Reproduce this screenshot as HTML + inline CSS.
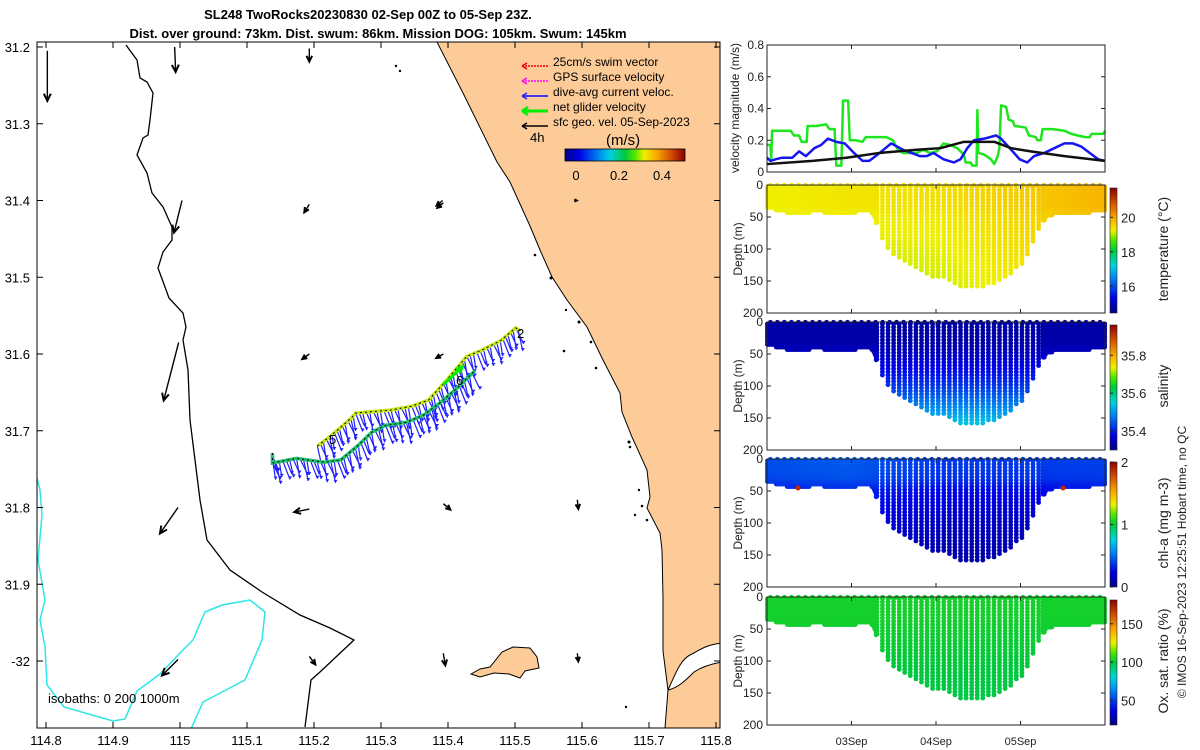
<!DOCTYPE html>
<html><head><meta charset="utf-8">
<style>
html,body{margin:0;padding:0;background:#fff;}
svg{display:block;font-family:"Liberation Sans",sans-serif;}
</style></head>
<body>
<svg id="fig" width="1200" height="750" viewBox="0 0 1200 750" xmlns="http://www.w3.org/2000/svg">
<defs>
<linearGradient id="cmapH" x1="0" x2="1" y1="0" y2="0">
<stop offset="0" stop-color="rgb(0,0,130)"/><stop offset="0.12" stop-color="rgb(0,0,230)"/><stop offset="0.3" stop-color="rgb(0,150,240)"/><stop offset="0.38" stop-color="rgb(0,210,220)"/><stop offset="0.5" stop-color="rgb(0,200,60)"/><stop offset="0.58" stop-color="rgb(80,230,0)"/><stop offset="0.66" stop-color="rgb(240,240,0)"/><stop offset="0.76" stop-color="rgb(250,170,0)"/><stop offset="0.88" stop-color="rgb(210,80,0)"/><stop offset="1" stop-color="rgb(140,0,0)"/>
</linearGradient>
<linearGradient id="cmapV" x1="0" x2="0" y1="1" y2="0">
<stop offset="0" stop-color="rgb(0,0,130)"/><stop offset="0.12" stop-color="rgb(0,0,230)"/><stop offset="0.3" stop-color="rgb(0,150,240)"/><stop offset="0.38" stop-color="rgb(0,210,220)"/><stop offset="0.5" stop-color="rgb(0,200,60)"/><stop offset="0.58" stop-color="rgb(80,230,0)"/><stop offset="0.66" stop-color="rgb(240,240,0)"/><stop offset="0.76" stop-color="rgb(250,170,0)"/><stop offset="0.88" stop-color="rgb(210,80,0)"/><stop offset="1" stop-color="rgb(140,0,0)"/>
</linearGradient>
<clipPath id="mapClip"><rect x="37" y="42" width="683" height="686"/></clipPath>
</defs>

<text x="368" y="19" text-anchor="middle" font-size="13" font-weight="bold">SL248 TwoRocks20230830 02-Sep 00Z to 05-Sep 23Z.</text>
<text x="378" y="38" text-anchor="middle" font-size="13" font-weight="bold">Dist. over ground: 73km. Dist. swum: 86km. Mission DOG: 105km. Swum: 145km</text>

<g id="map">
<g clip-path="url(#mapClip)">
<polygon fill="#fccb98" stroke="#000" stroke-width="1"
 points="437,42 463,93 497,162 510,182 530,226 540,250 552,277 567,300 587,327 603,360 620,393 622,412 632,437 647,470 650,497 647,508 660,533 662,550 663,598 663,651 668,690 665,728 730,728 730,42"/>
<path fill="#fff" stroke="#000" stroke-width="1" d="M668,690 C675,675 680,660 690,655 C700,650 705,645 722,643 L722,662 C710,664 700,668 694,672 C686,680 678,688 668,690 Z"/>
<polygon fill="#fccb98" stroke="#000" stroke-width="1"
 points="471,674 480,669 490,667 502,652 513,647 530,648 537,657 539,668 525,671 520,678 509,674 494,673 480,677"/>
<g fill="#000">
<circle cx="535" cy="255" r="1.3"/><circle cx="551" cy="278" r="1.5"/><circle cx="566" cy="310" r="1.2"/><circle cx="579" cy="322" r="1.5"/><circle cx="591" cy="342" r="1.3"/><circle cx="564" cy="351" r="1.3"/><circle cx="596" cy="368" r="1.3"/><circle cx="629" cy="442" r="1.5"/><circle cx="630" cy="447" r="1.3"/><circle cx="639" cy="490" r="1.2"/><circle cx="642" cy="506" r="1.3"/><circle cx="635" cy="515" r="1.2"/><circle cx="647" cy="520" r="1.3"/><circle cx="396" cy="66" r="1.2"/><circle cx="400" cy="71" r="1.2"/><circle cx="626" cy="707" r="1.2"/>
</g>
<polyline fill="none" stroke="#000" stroke-width="1.3"
 points="126,45 137,60 140,78 147,82 153,93 150,120 148,135 143,138 137,155 147,173 152,193 163,207 172,227 172,240 163,252 158,268 165,287 169,298 183,313 186,327 183,340 188,370 190,420 195,460 200,500 207,540 230,570 262,592 300,615 330,628 354,640 320,672 311,680 305,727"/>
<polyline fill="none" stroke="#2ee6e6" stroke-width="1.5"
 points="37,478 40,490 42,515 38,560 45,600 40,620 45,647 47,685 64,707 113,721 125,719 137,691 160,674 179,654 193,640 205,612 222,605 250,600 265,612 262,640 245,680 203,702 191,729"/>
<g id="geoArrows"></g>
<g id="track"></g>
</g>
<rect x="37" y="42" width="683" height="686" fill="none" stroke="#000" stroke-width="1"/>
<g id="mapTicks"></g>
<text x="48" y="703" font-size="13">isobaths: 0   200  1000m</text>
<text x="517" y="338" font-size="13">2</text>
<text x="456" y="385" font-size="13">6</text>
<text x="329" y="444" font-size="13">5</text>

<g font-size="12">
<line x1="548" y1="66" x2="522" y2="66" stroke="#e00" stroke-width="1.5" stroke-dasharray="2,1"/><path d="M522,66 l5,-3 M522,66 l5,3" stroke="#e00" stroke-width="1.5"/>
<text x="553" y="66">25cm/s swim vector</text>
<line x1="548" y1="81" x2="522" y2="81" stroke="#f0f" stroke-width="1.5" stroke-dasharray="2,1"/><path d="M522,81 l5,-3 M522,81 l5,3" stroke="#f0f" stroke-width="1.5"/>
<text x="553" y="81">GPS surface velocity</text>
<line x1="548" y1="96" x2="522" y2="96" stroke="#22f" stroke-width="1.8"/><path d="M522,96 l5,-3 M522,96 l5,3" stroke="#22f" stroke-width="1.5"/>
<text x="553" y="96">dive-avg current veloc.</text>
<line x1="548" y1="111" x2="522" y2="111" stroke="#0e0" stroke-width="3"/><path d="M522,111 l6,-4 M522,111 l6,4" stroke="#0e0" stroke-width="2.5"/>
<text x="553" y="111">net glider velocity</text>
<line x1="548" y1="126" x2="522" y2="126" stroke="#000" stroke-width="1.5"/><path d="M522,126 l5,-3 M522,126 l5,3" stroke="#000" stroke-width="1.5"/>
<text x="553" y="126">sfc geo. vel. 05-Sep-2023</text>
<text x="530" y="142" font-size="13">4h</text>
<text x="606" y="145" font-size="15">(m/s)</text>
<rect x="565" y="149" width="120" height="12" fill="url(#cmapH)" stroke="#000" stroke-width="0.8"/>
<text x="576" y="180" font-size="13" text-anchor="middle">0</text>
<text x="619" y="180" font-size="13" text-anchor="middle">0.2</text>
<text x="662" y="180" font-size="13" text-anchor="middle">0.4</text>
</g>
</g>

<g id="right"></g>

<text transform="translate(739,108) rotate(-90)" text-anchor="middle" font-size="12" fill="#222">velocity magnitude (m/s)</text>
<text transform="translate(1186,562) rotate(-90)" text-anchor="middle" font-size="12" fill="#222">© IMOS 16-Sep-2023 12:25:51 Hobart time, no QC</text>
</svg>

<script>
// ---------- velocity panel data (time in days from 02-Sep 00Z) ----------
const greenT = [0,0.04,0.05,0.06,0.28,0.32,0.38,0.41,0.47,0.48,0.58,0.70,0.74,0.80,0.82,0.88,0.90,0.96,0.98,1.05,1.13,1.17,1.41,1.49,1.55,1.61,1.77,1.85,1.93,2.01,2.09,2.17,2.25,2.33,2.35,2.41,2.43,2.48,2.49,2.50,2.57,2.65,2.69,2.73,2.75,2.77,2.83,2.86,2.91,2.93,3.06,3.10,3.18,3.20,3.24,3.26,3.38,3.52,3.56,3.60,3.68,3.76,3.82,3.84,3.98,4.0];
const greenV = [0.17,0.17,0.08,0.26,0.26,0.23,0.23,0.19,0.19,0.29,0.29,0.30,0.27,0.27,0.04,0.04,0.45,0.45,0.20,0.20,0.19,0.22,0.22,0.20,0.14,0.12,0.12,0.14,0.12,0.13,0.18,0.17,0.15,0.11,0.06,0.06,0.04,0.04,0.39,0.12,0.11,0.08,0.05,0.10,0.15,0.42,0.41,0.33,0.32,0.29,0.28,0.23,0.22,0.20,0.20,0.27,0.27,0.26,0.25,0.24,0.23,0.22,0.22,0.24,0.24,0.26];
const blueT = [0,0.04,0.10,0.18,0.30,0.38,0.46,0.56,0.64,0.72,0.82,0.92,1.03,1.13,1.21,1.31,1.47,1.61,1.71,1.81,1.89,1.97,2.09,2.21,2.29,2.37,2.45,2.57,2.71,2.77,2.89,2.99,3.08,3.16,3.28,3.40,3.52,3.62,3.72,3.82,3.92,4.0];
const blueV = [0.09,0.07,0.08,0.09,0.09,0.13,0.10,0.15,0.17,0.21,0.19,0.18,0.12,0.07,0.07,0.11,0.18,0.14,0.12,0.10,0.10,0.12,0.08,0.06,0.08,0.15,0.20,0.21,0.23,0.21,0.14,0.08,0.06,0.10,0.12,0.15,0.18,0.18,0.16,0.12,0.08,0.07];
const blackT = [0,0.54,0.94,1.33,1.77,2.05,2.33,2.69,2.89,3.12,3.52,4.0];
const blackV = [0.05,0.07,0.09,0.12,0.14,0.15,0.19,0.19,0.15,0.13,0.10,0.07];
const velTicks = [0,0.2,0.4,0.6,0.8];
const dayTicks = [1,2,3];
const dayLabels = ["03Sep","04Sep","05Sep"];
const depthTicks = [0,50,100,150,200];

// ---------- profile coverage (max dive depth vs time) ----------
const envT = [0,0.3,0.6,0.9,1.2,1.25,1.41,1.6,1.8,2.0,2.16,2.32,2.55,2.71,2.87,3.03,3.13,3.19,3.31,3.43,3.7,4.0];
const envD = [36,45,42,46,40,45,100,120,135,145,150,160,160,155,140,125,100,75,50,45,45,40];

// ---------- per-variable colour models: value at depth levels + time anomaly ----------
const profDepth = [0,30,50,100,160];
const adjT = [0,1,2,3,4];
const tempProf = [19.4,19.4,19.3,19.2,19.1];
const tempAdj = [-0.15,-0.05,0.0,0.2,0.45];
const salProf = [35.33,35.33,35.35,35.42,35.54];
const salAdj = [0,0,0,0,0];
const chlProf = [0.38,0.36,0.25,0.15,0.10];
const chlAdj = [0.05,0.08,0,0,0.02];
const oxProf = [103,103,102,100,98];
const oxAdj = [0,0,0,0,0];

// ---------- map data ----------
const geoLon = [114.802,114.992,115.193,115.392,115.592,115.003,115.193,115.393,114.998,115.193,115.393,114.997,115.193,115.393,115.593,114.997,115.193,115.393,115.593];
const geoLat = [31.205,31.200,31.202,31.400,31.400,31.400,31.405,31.403,31.585,31.600,31.600,31.800,31.802,31.795,31.790,31.998,31.994,31.990,31.990];
const geoU = [0.00,0.01,0.00,-0.06,0.00,-0.08,-0.05,-0.06,-0.15,-0.07,-0.07,-0.18,-0.15,0.07,0.01,-0.16,0.06,0.02,0.01];
const geoV = [-0.50,-0.25,-0.13,-0.05,0.0,-0.32,-0.08,-0.05,-0.58,-0.05,-0.04,-0.26,-0.03,-0.06,-0.09,-0.16,-0.08,-0.12,-0.08];
const upLon = [115.205,115.223,115.238,115.255,115.262,115.315,115.346,115.371,115.397,115.428,115.448,115.478,115.501,115.508];
const upLat = [31.720,31.708,31.697,31.684,31.677,31.673,31.668,31.660,31.635,31.603,31.596,31.583,31.566,31.570];
const loLon = [115.138,115.138,115.174,115.215,115.240,115.266,115.286,115.307,115.338,115.363,115.389,115.409,115.440];
const loLat = [31.729,31.742,31.736,31.741,31.738,31.719,31.702,31.693,31.689,31.680,31.663,31.648,31.622];
const diveU = [0.05,0.08,0.04,0.10,0.06,0.03,0.09,0.07];
const diveV = [-0.22,-0.18,-0.25,-0.20,-0.27,-0.19,-0.23,-0.17];

const NS = "http://www.w3.org/2000/svg";
function mk(tag, attrs, parent){const e=document.createElementNS(NS,tag);for(const k in attrs)e.setAttribute(k,attrs[k]);parent.appendChild(e);return e;}
function interp(xs,ys,x){if(x<=xs[0])return ys[0];for(let i=1;i<xs.length;i++){if(x<=xs[i]){const f=(x-xs[i-1])/(xs[i]-xs[i-1]);return ys[i-1]+f*(ys[i]-ys[i-1]);}}return ys[ys.length-1];}
const stops=[[0,0,0,130],[0.12,0,0,230],[0.3,0,150,240],[0.38,0,210,220],[0.5,0,200,60],[0.58,80,230,0],[0.66,240,240,0],[0.76,250,170,0],[0.88,210,80,0],[1,140,0,0]];
function cmap(f){f=Math.max(0,Math.min(1,f));for(let i=1;i<stops.length;i++){if(f<=stops[i][0]){const a=stops[i-1],b=stops[i],g=(f-a[0])/(b[0]-a[0]);return `rgb(${Math.round(a[1]+g*(b[1]-a[1]))},${Math.round(a[2]+g*(b[2]-a[2]))},${Math.round(a[3]+g*(b[3]-a[3]))})`;}}return "rgb(140,0,0)";}

// ---------- map axes ----------
const lonX = lon => 46 + (lon-114.8)/0.1*67;
const latY = lat => 47 + (lat-31.2)/0.1*76.75;
const mt = document.getElementById('mapTicks');
const lonTicks=[114.8,114.9,115.0,115.1,115.2,115.3,115.4,115.5,115.6,115.7,115.8];
const lonLabels=["114.8","114.9","115","115.1","115.2","115.3","115.4","115.5","115.6","115.7","115.8"];
const latTicks=[31.2,31.3,31.4,31.5,31.6,31.7,31.8,31.9,32.0];
const latLabels=["31.2","31.3","31.4","31.5","31.6","31.7","31.8","31.9","-32"];
lonTicks.forEach((v,i)=>{const x=lonX(v);
 mk('line',{x1:x,x2:x,y1:728,y2:722,stroke:'#000'},mt);mk('line',{x1:x,x2:x,y1:42,y2:48,stroke:'#000'},mt);
 const t=mk('text',{x:x,y:745,'text-anchor':'middle','font-size':13},mt);t.textContent=lonLabels[i];
 
 });
latTicks.forEach((v,i)=>{const y=latY(v);
 mk('line',{x1:37,x2:43,y1:y,y2:y,stroke:'#000'},mt);mk('line',{x1:720,x2:714,y1:y,y2:y,stroke:'#000'},mt);
 const t=mk('text',{x:30,y:y+5,'text-anchor':'end','font-size':13},mt);t.textContent=latLabels[i];
 
 });

// geostrophic arrows
const ga=document.getElementById('geoArrows');
const vscale=100;
geoLon.forEach((lon,i)=>{const x0=lonX(lon),y0=latY(geoLat[i]);const x1=x0+geoU[i]*vscale,y1=y0-geoV[i]*vscale;
 const ln=mk('line',{x1:x0,y1:y0,x2:x1,y2:y1,stroke:'#000','stroke-width':1.4},ga);
 
 
 const a=Math.atan2(y1-y0,x1-x0),h=Math.min(8,2.5+Math.hypot(x1-x0,y1-y0)*0.3);
 mk('path',{d:`M${x1-h*Math.cos(a-0.45)},${y1-h*Math.sin(a-0.45)} L${x1},${y1} L${x1-h*Math.cos(a+0.45)},${y1-h*Math.sin(a+0.45)}`,fill:'none',stroke:'#000','stroke-width':2},ga);});

// track
const tr=document.getElementById('track');
function drawTrack(lons,lats,colA){
 const pts=lons.map((l,i)=>[lonX(l),latY(lats[i])]);
 let k=0;
 for(let i=1;i<pts.length;i++){const [ax,ay]=pts[i-1],[bx,by]=pts[i];const n=Math.max(1,Math.round(Math.hypot(bx-ax,by-ay)/3.5));
  for(let j=0;j<n;j++){const f=j/n,x=ax+f*(bx-ax),y=ay+f*(by-ay);const u=diveU[k%diveU.length],v=diveV[k%diveV.length];k++;
   const x2=x+u*80,y2=y-v*80;
   mk('line',{x1:x,y1:y,x2:x2,y2:y2,stroke:'#1f1fff','stroke-width':1.2},tr);
   mk('path',{d:`M${x2},${y2} l-2,-3 l4,0 Z`,fill:'#1f1fff'},tr);}}
 const pl=mk('polyline',{points:pts.map(p=>p.join(',')).join(' '),fill:'none',stroke:colA,'stroke-width':3.5},tr);
 
 
 mk('polyline',{points:pts.map(p=>p.join(',')).join(' '),fill:'none',stroke:'#000','stroke-width':1,'stroke-dasharray':'2,3'},tr);
}
drawTrack(upLon,upLat,'#c8e61e');
drawTrack(loLon,loLat,'#22c070');
mk('line',{x1:443,y1:385,x2:462,y2:367,stroke:'#0e0','stroke-width':3},tr);
mk('path',{d:'M465,364 L455,368 L461,374 Z',fill:'#0e0'},tr);

// ---------- right panels ----------
const R=document.getElementById('right');
const PX0=767,PX1=1105;
const tX=t=>PX0+t/4*(PX1-PX0);
function frame(top,bottom,name){const r=mk('rect',{x:PX0,y:top,width:PX1-PX0,height:bottom-top,fill:'none',stroke:'#222','stroke-width':1},R);
 
 
 dayTicks.forEach(d=>{const x=tX(d);mk('line',{x1:x,x2:x,y1:bottom,y2:bottom-4,stroke:'#222'},R);mk('line',{x1:x,x2:x,y1:top,y2:top+4,stroke:'#222'},R);});}

const VT=45,VB=172;
const vY=v=>VB-v/0.8*(VB-VT);
function vline(ts,vs,col,w,name){const p=mk('polyline',{points:ts.map((t,i)=>tX(t)+','+vY(vs[i])).join(' '),fill:'none',stroke:col,'stroke-width':w,'stroke-linejoin':'round'},R);
 
 }
vline(greenT,greenV,'#1ee61e',2.5,'net-glider-speed-line');
vline(blueT,blueV,'#1515f0',2.5,'dive-avg-current-line');
vline(blackT,blackV,'#111',2.5,'sfc-geo-speed-line');
frame(VT,VB,'velocity-axes');
velTicks.forEach(v=>{const y=vY(v);mk('line',{x1:PX0,x2:PX0+4,y1:y,y2:y,stroke:'#222'},R);mk('line',{x1:PX1,x2:PX1-4,y1:y,y2:y,stroke:'#222'},R);
 const t=mk('text',{x:PX0-3,y:y+4,'text-anchor':'end','font-size':12,fill:'#222'},R);t.textContent=v===0?'0':v.toFixed(1);
 
 });

const panels=[
 {top:185,prof:tempProf,adj:tempAdj,min:14.45,max:21.7,ticks:[16,18,20],labels:["16","18","20"],title:"temperature (°C)",name:"temperature"},
 {top:322,prof:salProf,adj:salAdj,min:35.3,max:35.96,ticks:[35.4,35.6,35.8],labels:["35.4","35.6","35.8"],title:"salinity",name:"salinity"},
 {top:459,prof:chlProf,adj:chlAdj,min:0,max:2,ticks:[0,1,2],labels:["0","1","2"],title:"chl-a (mg m-3)",name:"chlorophyll"},
 {top:597,prof:oxProf,adj:oxAdj,min:18,max:181,ticks:[50,100,150],labels:["50","100","150"],title:"Ox. sat. ratio (%)",name:"oxygen"}
];
panels.forEach((P)=>{
 const top=P.top,bot=top+128;const dY=d=>top+d/200*128;
 const g=mk('g',{},R);
 
 
 const cols=[];
 for(let t=0.005;t<4;t+=0.013){const e=interp(envT,envD,t);if(e<60)cols.push(t);}
 for(let t=1.3;t<3.32;t+=0.066){cols.push(t);}
 cols.forEach(t=>{const e=interp(envT,envD,t);const step=e<60?4:5;
  for(let d=3;d<=e;d+=step){const val=interp(profDepth,P.prof,d)+interp(adjT,P.adj,t);
   mk('circle',{cx:tX(t).toFixed(1),cy:dY(d).toFixed(1),r:2.4,fill:cmap((val-P.min)/(P.max-P.min))},g);}});
 for(let t=0.04;t<4;t+=0.083){const val=interp(profDepth,P.prof,0)+interp(adjT,P.adj,t);
  mk('circle',{cx:tX(t).toFixed(1),cy:dY(0.5),r:2.4,fill:cmap((val-P.min)/(P.max-P.min))},g);}
 frame(top,bot,P.name+'-axes');
 depthTicks.forEach(d=>{const y=dY(d);mk('line',{x1:PX0,x2:PX0+4,y1:y,y2:y,stroke:'#222'},R);mk('line',{x1:PX1,x2:PX1-4,y1:y,y2:y,stroke:'#222'},R);
  const t=mk('text',{x:PX0-4,y:y+4,'text-anchor':'end','font-size':12,fill:'#222'},R);t.textContent=d;
  
  });
 const yl=mk('text',{transform:`translate(742,${top+64}) rotate(-90)`,'text-anchor':'middle','font-size':12,fill:'#222'},R);yl.textContent='Depth (m)';
 
 
 const cb=mk('rect',{x:1110,y:top+3,width:7,height:125,fill:'url(#cmapV)',stroke:'#222','stroke-width':0.6},R);
 
 
 const cY=v=>top+128-(v-P.min)/(P.max-P.min)*125;
 P.ticks.forEach((v,i)=>{const y=cY(v);mk('line',{x1:1110,x2:1113,y1:y,y2:y,stroke:'#222'},R);
  const t=mk('text',{x:1121,y:y+5,'font-size':13,fill:'#222'},R);t.textContent=P.labels[i];
  
  });
 const ct=mk('text',{transform:`translate(1168,${top+64}) rotate(-90)`,'text-anchor':'middle','font-size':14,fill:'#222'},R);ct.textContent=P.title;
 
 
});
mk('circle',{cx:798,cy:488,r:2.5,fill:'rgb(200,40,0)'},R);
mk('circle',{cx:1063,cy:488,r:2.5,fill:'rgb(200,40,0)'},R);
dayTicks.forEach((d,i)=>{const t=mk('text',{x:tX(d),y:745,'text-anchor':'middle','font-size':11,fill:'#222'},R);t.textContent=dayLabels[i];
 
 });
</script>
</body></html>
